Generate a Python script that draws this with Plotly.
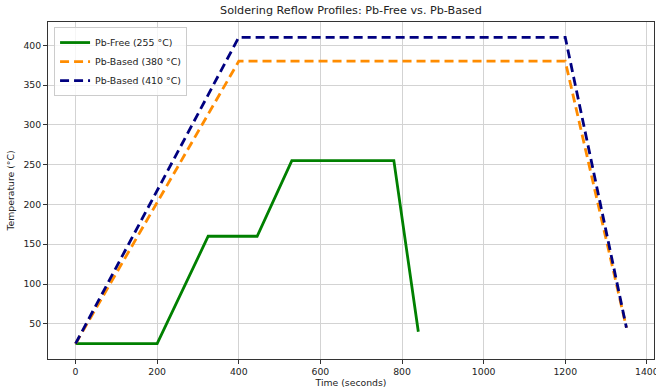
import plotly.graph_objects as go

free_t = [0, 200, 325, 445, 530, 780, 840]
free_temp = [25, 25, 160, 160, 255, 255, 40]
pb380_t = [0, 400, 1200, 1350]
pb380_temp = [25, 380, 380, 45]
pb410_t = [0, 400, 1200, 1350]
pb410_temp = [25, 410, 410, 45]

fig = go.Figure()
fig.add_trace(go.Scatter(x=free_t, y=free_temp, mode="lines", name="Pb-Free (255 °C)",
                         line=dict(color="green", width=2.8)))
fig.add_trace(go.Scatter(x=pb380_t, y=pb380_temp, mode="lines", name="Pb-Based (380 °C)",
                         line=dict(color="darkorange", width=2.8, dash="9px,5px")))
fig.add_trace(go.Scatter(x=pb410_t, y=pb410_temp, mode="lines", name="Pb-Based (410 °C)",
                         line=dict(color="navy", width=2.8, dash="9px,5px")))

axis_common = dict(showline=True, linecolor="#333", linewidth=1, mirror=True,
                   ticks="outside", ticklen=4, tickcolor="#333", automargin=False,
                   ticklabeloverflow="allow",
                   showgrid=True, gridcolor="#d3d3d3", gridwidth=1, zeroline=False,
                   tickfont=dict(size=9.3, color="#222"))
fig.update_layout(
    width=656, height=389,
    margin=dict(l=48, r=2, t=22, b=30, autoexpand=False),
    paper_bgcolor="white", plot_bgcolor="white",
    font=dict(family="DejaVu Sans", size=10, color="#222"),
    title=dict(text="Soldering Reflow Profiles: Pb-Free vs. Pb-Based", x=0.535, xanchor="center",
               y=0.985, yanchor="top", font=dict(size=11.2)),
    xaxis=dict(range=[-67.5, 1417.5], tickvals=[0, 200, 400, 600, 800, 1000, 1200, 1400],
               title=dict(text="Time (seconds)", standoff=3, font=dict(size=9.3)), **axis_common),
    yaxis=dict(range=[5.75, 429.25], tickvals=[50, 100, 150, 200, 250, 300, 350, 400],
               title=dict(text="Temperature (°C)", standoff=7, font=dict(size=9.3)), **axis_common),
    legend=dict(x=0.01, y=0.985, xanchor="left", yanchor="top", bgcolor="rgba(255,255,255,0.8)",
                bordercolor="#ccc", borderwidth=1, font=dict(size=9.4), tracegroupgap=0,
                itemwidth=30),
    showlegend=True,
)
fig.write_html("out.html", config={"displayModeBar": False},
               post_script="document.body.style.margin='0';document.body.style.overflow='hidden';")
